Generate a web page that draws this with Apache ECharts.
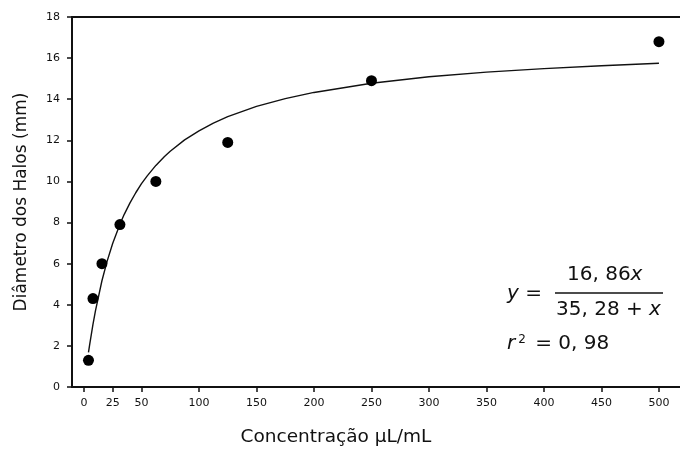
<!DOCTYPE html>
<html>
<head>
<meta charset="utf-8">
<script src="https://cdn.jsdelivr.net/npm/echarts@6/dist/echarts.min.js"></script>
<style>
  html, body { margin: 0; padding: 0; background: #fff; }
  #chart { width: 680px; height: 452px; }
</style>
</head>
<body>
<div id="chart"></div>
<script>
// measured halo diameters (mm) per concentration (uL/mL)
const concentrations = [3.9, 7.8, 15.6, 31.25, 62.5, 125, 250, 500];
const diameters = [1.3, 4.3, 6.0, 7.9, 10.0, 11.9, 14.9, 16.8];

// fitted curve
const fitX = [3.9, 5, 7.8, 10, 15.6, 20, 25, 31.25, 35, 40, 45, 50, 55, 62.5, 70, 75, 87.5, 100, 112.5, 125, 150, 175, 200, 250, 300, 350, 400, 450, 500];
const fitY = [1.68, 2.09, 3.05, 3.72, 5.17, 6.10, 6.99, 7.92, 8.40, 8.96, 9.45, 9.89, 10.27, 10.78, 11.21, 11.47, 12.02, 12.46, 12.84, 13.15, 13.65, 14.03, 14.33, 14.78, 15.09, 15.32, 15.49, 15.63, 15.75];

const xTicks = [0, 25, 50, 100, 150, 200, 250, 300, 350, 400, 450, 500];

const font = 'DejaVu Sans';
const ink = '#111';

const chart = echarts.init(document.getElementById('chart'));

const option = {
    animation: false,
    grid: { left: 72, right: 0, top: 17, bottom: 64 },
    xAxis: [{
        type: 'value',
        min: -10.43,
        max: 518.3,
        name: 'Concentração µL/mL',
        nameLocation: 'middle',
        nameGap: 41,
        nameTextStyle: { fontFamily: font, fontSize: 18.5, color: ink, padding: [0, 80, 0, 0] },
        axisLine: { onZero: false, lineStyle: { color: ink, width: 2 } },
        axisTick: { show: true, length: 5, customValues: xTicks, lineStyle: { color: ink, width: 1.5 } },
        axisLabel: { customValues: xTicks, fontFamily: font, fontSize: 11, color: ink, margin: 11 },
        splitLine: { show: false }
    }, {
        // top frame line
        type: 'value',
        position: 'top',
        min: -10.43,
        max: 518.3,
        axisLine: { show: true, onZero: false, lineStyle: { color: ink, width: 2 } },
        axisTick: { show: false },
        axisLabel: { show: false },
        splitLine: { show: false }
    }],
    yAxis: {
        type: 'value',
        min: 0,
        max: 18,
        interval: 2,
        name: 'Diâmetro dos Halos (mm)',
        nameLocation: 'middle',
        nameGap: 42,
        nameTextStyle: { fontFamily: font, fontSize: 17, color: ink },
        axisLine: { show: true, onZero: false, lineStyle: { color: ink, width: 2 } },
        axisTick: { show: true, length: 5, lineStyle: { color: ink, width: 1.5 } },
        axisLabel: { fontFamily: font, fontSize: 11, color: ink, margin: 12 },
        splitLine: { show: false }
    },
    series: [{
        name: 'ajuste',
        type: 'line',
        data: fitX.map((x, i) => [x, fitY[i]]),
        showSymbol: false,
        smooth: false,
        lineStyle: { color: ink, width: 1.4 },
        z: 2
    }, {
        name: 'halos',
        type: 'scatter',
        data: concentrations.map((x, i) => [x, diameters[i]]),
        symbol: 'circle',
        symbolSize: 11,
        itemStyle: { color: '#000', opacity: 1 },
        z: 3
    }],
    graphic: [
        {
            type: 'text', left: 507, top: 284,
            style: {
                text: '{i|y} =', fontFamily: font, fontSize: 20, fill: ink,
                rich: { i: { fontStyle: 'italic', fontFamily: font, fontSize: 20 } }
            }
        },
        {
            type: 'text', left: 567, top: 265,
            style: {
                text: '16, 86{i|x}', fontFamily: font, fontSize: 20, fill: ink,
                rich: { i: { fontStyle: 'italic', fontFamily: font, fontSize: 20 } }
            }
        },
        {
            type: 'line',
            shape: { x1: 555, y1: 293, x2: 663, y2: 293 },
            style: { stroke: ink, lineWidth: 1.5 }
        },
        {
            type: 'text', left: 556, top: 300,
            style: {
                text: '35, 28 + {i|x}', fontFamily: font, fontSize: 20, fill: ink,
                rich: { i: { fontStyle: 'italic', fontFamily: font, fontSize: 20 } }
            }
        },
        {
            type: 'text', left: 507, top: 334,
            style: {
                text: '{i|r}{s|2} = 0, 98', fontFamily: font, fontSize: 20, fill: ink,
                rich: {
                    i: { fontStyle: 'italic', fontFamily: font, fontSize: 20 },
                    s: { fontFamily: font, fontSize: 12, verticalAlign: 'top', padding: [0, 3, 0, 3] }
                }
            }
        }
    ]
};

chart.setOption(option);

window.addEventListener('resize', () => {
    chart.resize();
});
</script>
</body>
</html>
